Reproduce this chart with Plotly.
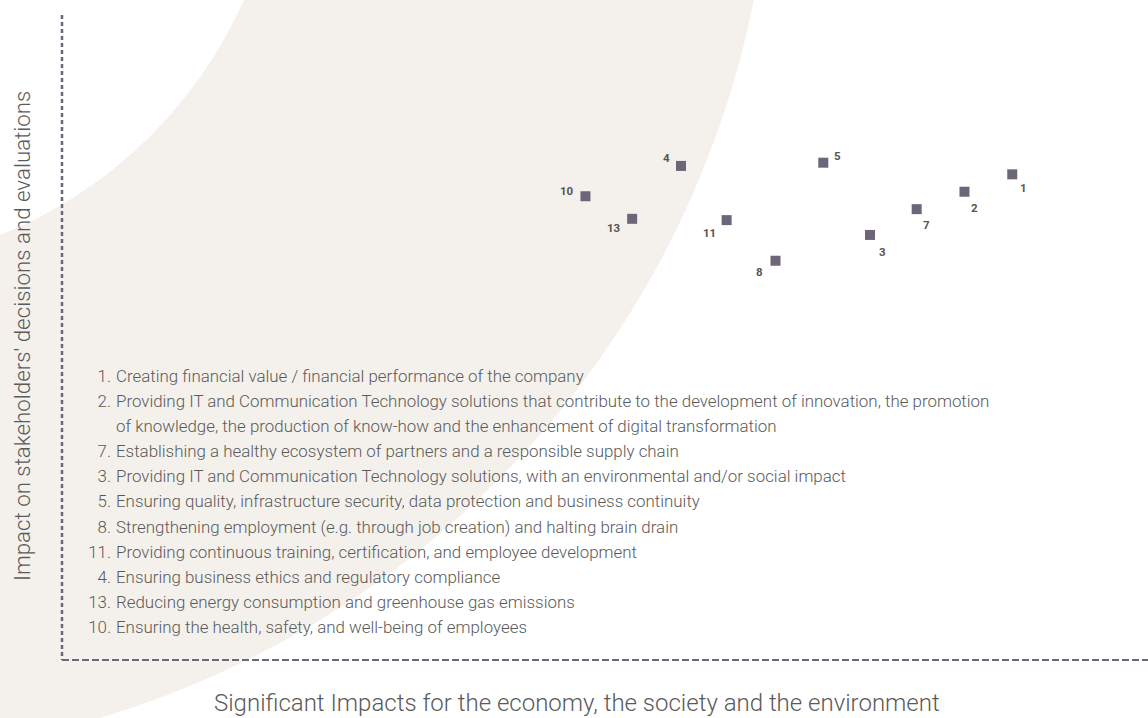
import numpy as np
import plotly.graph_objects as go

# Materiality topics: number, impact on the economy/society/environment (x),
# impact on stakeholders' decisions (y)
topic_ids = ["1", "2", "3", "4", "5", "7", "8", "10", "11", "13"]
impact_significance = [8.75, 8.31, 7.44, 5.70, 7.01, 7.87, 6.57, 4.82, 6.12, 5.25]
stakeholder_impact = [7.53, 7.26, 6.59, 7.66, 7.71, 6.99, 6.19, 7.19, 6.82, 6.84]

# Topic descriptions in ranking order (second line of topic 2 has no number)
list_numbers = ["1.", "2.", "", "7.", "3.", "5.", "8.", "11.", "4.", "13.", "10."]
list_texts = [
    "Creating financial value / financial performance of the company",
    "Providing IT and Communication Technology solutions that contribute to the development of innovation, the promotion",
    "of knowledge, the production of know-how and the enhancement of digital transformation",
    "Establishing a healthy ecosystem of partners and a responsible supply chain",
    "Providing IT and Communication Technology solutions, with an environmental and/or social impact",
    "Ensuring quality, infrastructure security, data protection and business continuity",
    "Strengthening employment (e.g. through job creation) and halting brain drain",
    "Providing continuous training, certification, and employee development",
    "Ensuring business ethics and regulatory compliance",
    "Reducing energy consumption and greenhouse gas emissions",
    "Ensuring the health, safety, and well-being of employees",
]

x_title = "Significant Impacts for the economy, the society and the environment"
y_title = "Impact on stakeholders' decisions and evaluations"

# ---- layout geometry (pixels) ----
W, H = 1148, 718
AX_LEFT, AX_BOTTOM, AX_TOP = 62, 660, 15

# label offsets (px) of each topic number relative to its marker
label_offsets = {
    "1": (11, -14), "2": (10, -16), "3": (13, -17), "7": (10, -16),
    "4": (-15, 8), "5": (14, 7), "10": (-18, 5), "13": (-18, -9),
    "11": (-17, -13), "8": (-16, -11),
}

MARK = "#6D6678"
TXT = "#5A5A5A"
BEIGE = "#F4F1EC"
FONT = "Roboto"


def px(x):
    return x / W


def py(y):
    return 1 - y / H


fig = go.Figure()

fig.add_trace(go.Scatter(
    x=impact_significance,
    y=stakeholder_impact,
    mode="markers",
    marker=dict(symbol="square", size=10, color=MARK, line=dict(width=0)),
    hoverinfo="skip",
    showlegend=False,
))

# legend-style list of topics, laid out on a pixel-scaled overlay axis pair
line_y0, line_step = 378, 25.05
row_y = [line_y0 + i * line_step for i in range(len(list_texts))]
num_rows = [(n, y) for n, y in zip(list_numbers, row_y) if n]
list_font = dict(family=FONT, size=16.9, color=TXT, weight=300)

fig.add_trace(go.Scatter(
    x=[111] * len(num_rows), y=[y for _, y in num_rows],
    text=[n for n, _ in num_rows], mode="text", textposition="middle left",
    textfont=list_font, xaxis="x2", yaxis="y2",
    hoverinfo="skip", showlegend=False,
))
fig.add_trace(go.Scatter(
    x=[116] * len(list_texts), y=row_y,
    text=list_texts, mode="text", textposition="middle right",
    textfont=list_font, xaxis="x2", yaxis="y2",
    hoverinfo="skip", showlegend=False,
))

# decorative ring in the background
cx, cy, r_in, r_out = -169, -184, 452, 941
theta = np.linspace(-0.05, np.pi / 2 + 0.05, 200)
outer = [(cx + r_out * np.cos(t), cy + r_out * np.sin(t)) for t in theta]
inner = [(cx + r_in * np.cos(t), cy + r_in * np.sin(t)) for t in theta[::-1]]
pts = outer + inner
path = "M " + " L ".join(f"{px(x):.5f},{py(y):.5f}" for x, y in pts) + " Z"

shapes = [
    dict(type="path", path=path, xref="paper", yref="paper",
         fillcolor=BEIGE, line=dict(width=0), layer="below"),
    # dashed axes
    dict(type="line", xref="paper", yref="paper",
         x0=px(AX_LEFT), x1=px(AX_LEFT), y0=py(AX_TOP), y1=py(AX_BOTTOM),
         line=dict(color=MARK, width=2.5, dash="4px,3px")),
    dict(type="line", xref="paper", yref="paper",
         x0=px(AX_LEFT), x1=1, y0=py(AX_BOTTOM), y1=py(AX_BOTTOM),
         line=dict(color=MARK, width=2, dash="7px,3px")),
]

annotations = []
for tid, xv, yv in zip(topic_ids, impact_significance, stakeholder_impact):
    dx, dy = label_offsets[tid]
    annotations.append(dict(
        x=xv, y=yv, xref="x", yref="y", text=f"<b>{tid}</b>", showarrow=False,
        xshift=dx, yshift=dy, xanchor="center", yanchor="middle",
        font=dict(family=FONT, size=11.5, color="#555555"),
    ))

annotations.append(dict(
    x=px(577), y=py(703), xref="paper", yref="paper", text=x_title,
    showarrow=False, xanchor="center", yanchor="middle",
    font=dict(family=FONT, size=24, color=TXT, weight=300),
))
annotations.append(dict(
    x=px(22), y=py(336), xref="paper", yref="paper", text=y_title,
    showarrow=False, textangle=-90, xanchor="center", yanchor="middle",
    font=dict(family=FONT, size=22.3, color=TXT, weight=300),
))

fig.update_layout(
    width=W, height=H,
    margin=dict(l=0, r=0, t=0, b=0),
    paper_bgcolor="white",
    plot_bgcolor="rgba(0,0,0,0)",
    xaxis=dict(domain=[px(AX_LEFT), 1], range=[0, 10], visible=False),
    yaxis=dict(domain=[py(AX_BOTTOM), py(AX_TOP)], range=[0, 10], visible=False),
    xaxis2=dict(domain=[0, 1], range=[0, W], visible=False, anchor="y2"),
    yaxis2=dict(domain=[0, 1], range=[H, 0], visible=False, anchor="x2"),
    shapes=shapes,
    annotations=annotations,
    showlegend=False,
)

fig.write_html("out.html")
